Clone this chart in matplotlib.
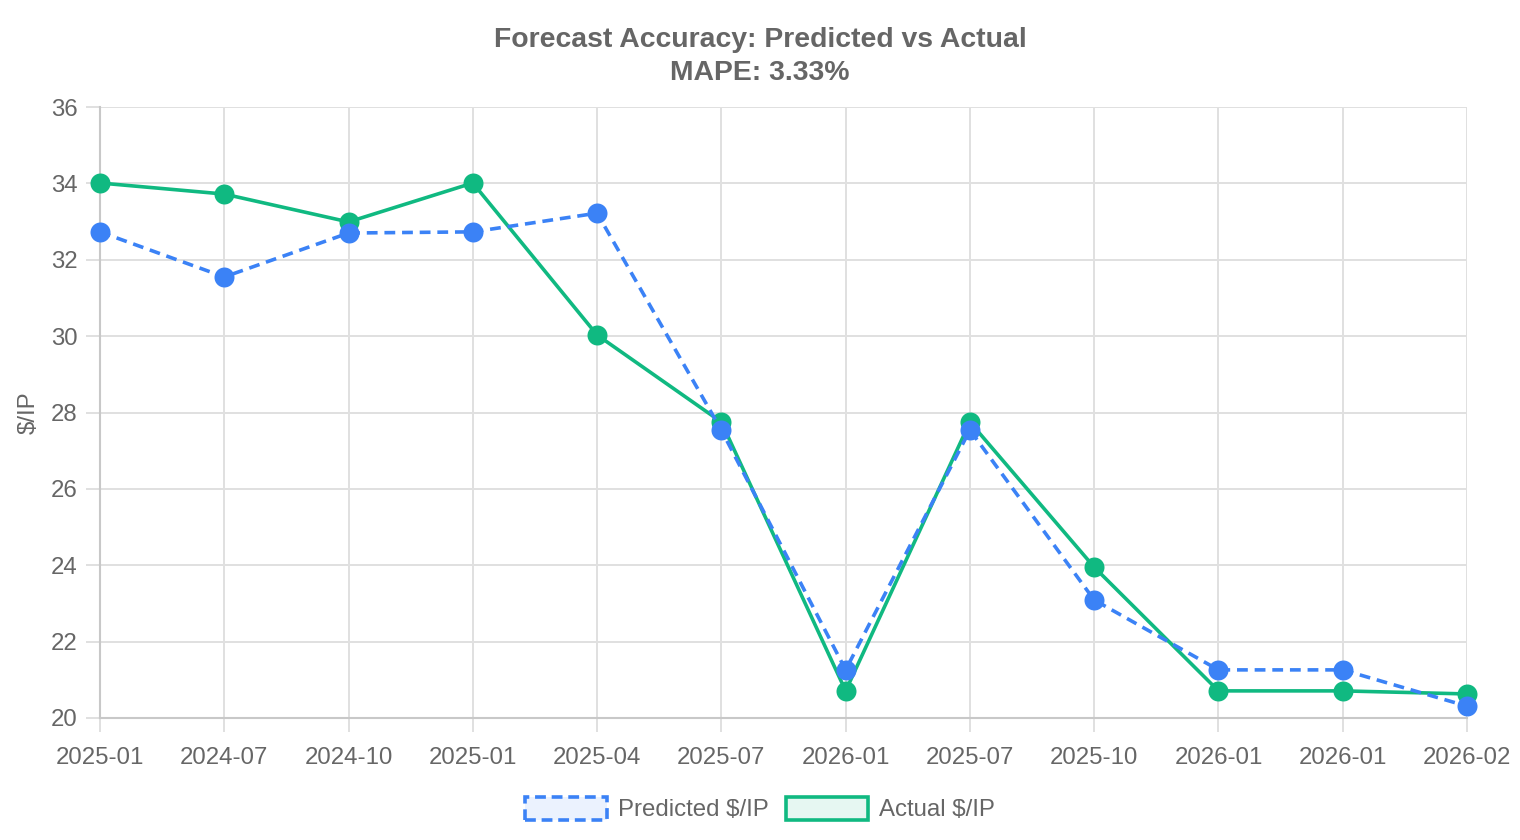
import matplotlib
matplotlib.use("Agg")
import matplotlib.pyplot as plt
from matplotlib.patches import Patch

labels = ["2025-01", "2024-07", "2024-10", "2025-01", "2025-04", "2025-07",
          "2026-01", "2025-07", "2025-10", "2026-01", "2026-01", "2026-02"]
predicted = [32.73, 31.55, 32.70, 32.73, 33.22, 27.54, 21.26, 27.54, 23.09, 21.26, 21.26, 20.31]
actual = [34.01, 33.72, 32.99, 34.01, 30.03, 27.75, 20.71, 27.75, 23.95, 20.71, 20.71, 20.63]
y_ticks = [20, 22, 24, 26, 28, 30, 32, 34, 36]

BLUE = "#3b82f6"
GREEN = "#10b981"
TXT = "#666666"
GRID = "#e0e0e0"

plt.rcParams["font.family"] = ["Liberation Sans", "DejaVu Sans"]

W, H = 1520, 840
fig = plt.figure(figsize=(W / 100, H / 100), dpi=100)
ax = fig.add_axes([100 / W, 1 - 718 / H, (1467 - 100) / W, (718 - 107) / H])

x = list(range(len(labels)))
lw = 3.6 * 0.72
ax.plot(x, actual, color=GREEN, lw=lw, marker="o", markersize=14.4,
        markeredgewidth=0, zorder=3, clip_on=False)
ax.plot(x, predicted, color=BLUE, lw=lw, marker="o", markersize=14.4,
        markeredgewidth=0, zorder=4, linestyle=(0, (3.0, 1.9)), clip_on=False)

ax.set_xlim(0, len(labels) - 1)
ax.set_ylim(20, 36)
ax.set_yticks(y_ticks)
ax.set_xticks(x)
ax.set_xticklabels(labels)

ax.grid(True, color=GRID, lw=1.4, zorder=0)
ax.tick_params(axis="both", colors=GRID, labelcolor=TXT, labelsize=17.3,
               length=10, width=1.4)
ax.tick_params(axis="y", pad=6)
ax.tick_params(axis="x", pad=11)
for s in ["top", "right"]:
    ax.spines[s].set_visible(False)
for s in ["left", "bottom"]:
    ax.spines[s].set_color("#c8c8c8")
    ax.spines[s].set_linewidth(1.5)
ax.set_axisbelow(True)

ax.set_ylabel("$/IP", color=TXT, fontsize=17.3, labelpad=8)

fig.text(0.5, 1 - 40 / H, "Forecast Accuracy: Predicted vs Actual", ha="center",
         va="center", fontsize=20.4, fontweight="bold", color=TXT)
fig.text(0.5, 1 - 73 / H, "MAPE: 3.33%", ha="center", va="center",
         fontsize=20.4, fontweight="bold", color=TXT)

handles = [
    Patch(facecolor=(0.231, 0.510, 0.965, 0.1), edgecolor=BLUE, linestyle=(0, (3.0, 1.6)), linewidth=2.6),
    Patch(facecolor=(0.063, 0.725, 0.506, 0.1), edgecolor=GREEN, linewidth=2.6),
]
leg = fig.legend(handles, ["Predicted $/IP", "Actual $/IP"], loc="center",
                 bbox_to_anchor=(0.5, 1 - 809 / H), ncol=2, frameon=False,
                 fontsize=17.3, handlelength=3.4, handleheight=1.1,
                 handletextpad=0.45, columnspacing=0.75, borderpad=0)
for t in leg.get_texts():
    t.set_color(TXT)

fig.savefig("out.png", dpi=100)
